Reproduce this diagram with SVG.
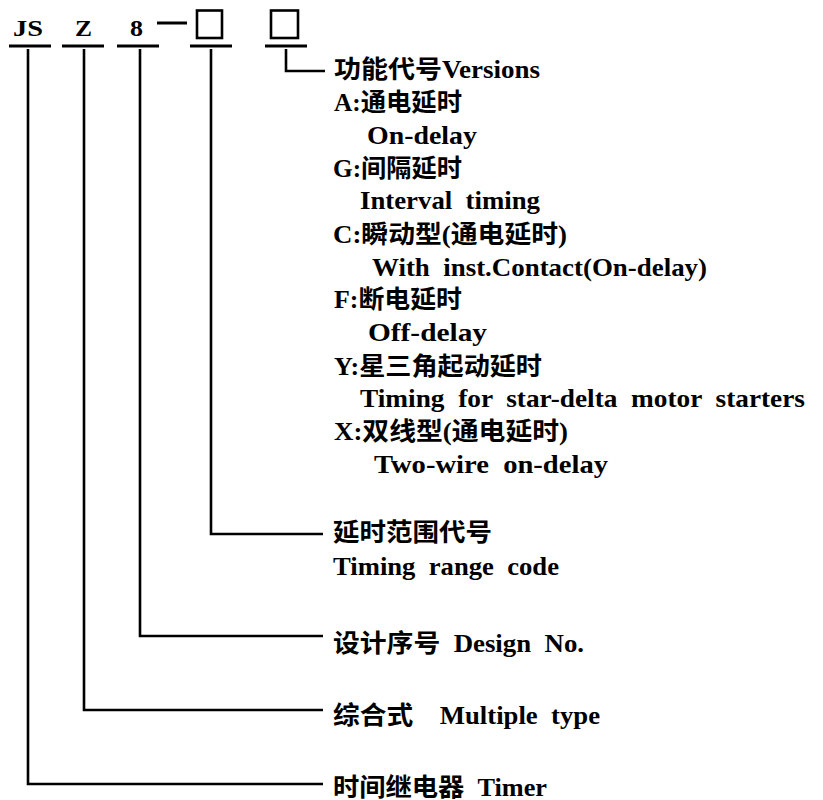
<svg xmlns="http://www.w3.org/2000/svg" width="823" height="800" viewBox="0 0 823 800" xml:space="preserve">
<style>
text{font-family:"Liberation Serif","Noto Sans CJK SC",serif;font-weight:bold;fill:#000;white-space:pre;}
.t{font-size:25px;}
.h{font-size:24px;}
.ln{stroke:#000;stroke-width:2.6;fill:none;}
.ul{stroke:#000;stroke-width:3;fill:none;}
.bx{stroke:#000;stroke-width:2.6;fill:none;}
</style>
<rect width="823" height="800" fill="#fff"/>
<g id="code">
  <g id="code-js"><text class="h" x="13" y="36" textLength="30" lengthAdjust="spacingAndGlyphs">JS</text><line class="ul" x1="9" y1="46" x2="51" y2="46"/></g>
  <g id="code-z"><text class="h" x="75" y="36" textLength="17" lengthAdjust="spacingAndGlyphs">Z</text><line class="ul" x1="62" y1="46" x2="104" y2="46"/></g>
  <g id="code-8"><text class="h" x="130" y="36" textLength="13" lengthAdjust="spacingAndGlyphs">8</text><line class="ul" x1="117" y1="46" x2="159" y2="46"/></g>
  <line class="ul" x1="157" y1="23" x2="187" y2="23"/>
  <g id="code-box1"><rect class="bx" x="197" y="10.5" width="25" height="27.5"/><line class="ul" x1="190" y1="46" x2="232" y2="46"/></g>
  <g id="code-box2"><rect class="bx" x="271" y="10.5" width="27" height="27.5"/><line class="ul" x1="265" y1="46" x2="307" y2="46"/></g>
</g>
<g id="connectors">
  <path class="ln" d="M28,49 V784 H323"/>
  <path class="ln" d="M84,49 V710 H323"/>
  <path class="ln" d="M140,49 V636 H323"/>
  <path class="ln" d="M211,49 V534 H323"/>
  <path class="ln" d="M286,49 V71 H325"/>
</g>
<g id="versions">
  <text class="t" x="334" y="78" textLength="206" lengthAdjust="spacingAndGlyphs">功能代号Versions</text>
  <text class="t" x="334" y="111" textLength="128" lengthAdjust="spacingAndGlyphs">A:通电延时</text>
  <text class="t" x="367" y="144" textLength="110" lengthAdjust="spacingAndGlyphs">On-delay</text>
  <text class="t" x="333" y="177" textLength="129" lengthAdjust="spacingAndGlyphs">G:间隔延时</text>
  <text class="t" x="360" y="209" textLength="180" lengthAdjust="spacingAndGlyphs">Interval  timing</text>
  <text class="t" x="333" y="242.5" textLength="234" lengthAdjust="spacingAndGlyphs">C:瞬动型(通电延时)</text>
  <text class="t" x="372" y="275.5" textLength="335" lengthAdjust="spacingAndGlyphs">With  inst.Contact(On-delay)</text>
  <text class="t" x="334" y="308" textLength="128" lengthAdjust="spacingAndGlyphs">F:断电延时</text>
  <text class="t" x="368" y="341" textLength="119" lengthAdjust="spacingAndGlyphs">Off-delay</text>
  <text class="t" x="334" y="374.5" textLength="208" lengthAdjust="spacingAndGlyphs">Y:星三角起动延时</text>
  <text class="t" x="360" y="407" textLength="445" lengthAdjust="spacingAndGlyphs">Timing  for  star-delta  motor  starters</text>
  <text class="t" x="334" y="440" textLength="234" lengthAdjust="spacingAndGlyphs">X:双线型(通电延时)</text>
  <text class="t" x="374" y="472.5" textLength="234" lengthAdjust="spacingAndGlyphs">Two-wire  on-delay</text>
</g>
<g id="range">
  <text class="t" x="333" y="541" textLength="159" lengthAdjust="spacingAndGlyphs">延时范围代号</text>
  <text class="t" x="333" y="575" textLength="226" lengthAdjust="spacingAndGlyphs">Timing  range  code</text>
</g>
<g id="design">
  <text class="t" x="333" y="652" textLength="251" lengthAdjust="spacingAndGlyphs">设计序号  Design  No.</text>
</g>
<g id="multiple">
  <text class="t" x="333" y="724" textLength="267" lengthAdjust="spacingAndGlyphs">综合式    Multiple  type</text>
</g>
<g id="timer">
  <text class="t" x="333" y="796" textLength="214" lengthAdjust="spacingAndGlyphs">时间继电器  Timer</text>
</g>
</svg>
